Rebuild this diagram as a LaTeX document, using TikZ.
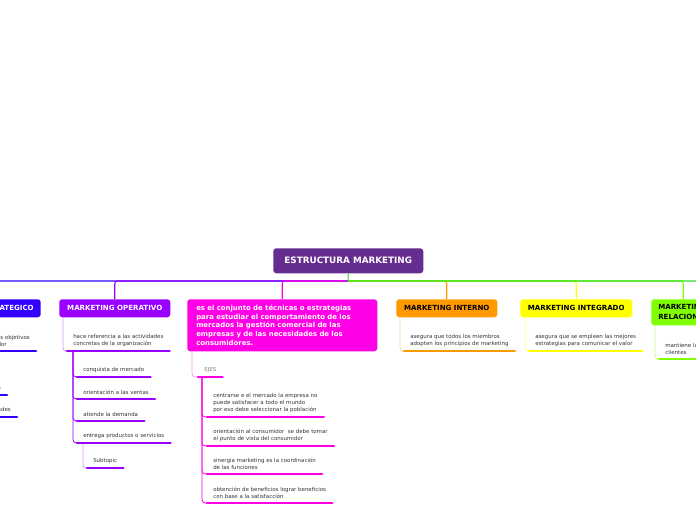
\documentclass[tikz,border=0pt]{standalone}
\usepackage{fontspec}
\setmainfont{DejaVu Sans}

\definecolor{cRoot}{HTML}{662D91}
\definecolor{cEs}{HTML}{3300FF}
\definecolor{cOp}{HTML}{9900FF}
\definecolor{cMg}{HTML}{FF00E6}
\definecolor{cIn}{HTML}{FF9900}
\definecolor{cIg}{HTML}{FFFF00}
\definecolor{cRe}{HTML}{80FF00}
\definecolor{cNx}{HTML}{33DD22}
\definecolor{txt}{HTML}{333333}

\tikzset{
  topic/.style={rounded corners=2.25pt, inner xsep=5.25pt, inner ysep=0pt, minimum height=13.5pt,
    font=\bfseries\fontsize{5.3}{7.5}\selectfont},
  subt/.style={inner xsep=4.5pt, inner ysep=3pt, align=left, text=txt,
    font=\fontsize{4.1}{5.3}\selectfont},
  uline/.style={line width=2pt, line cap=round},
  bus/.style={line width=0.8pt, rounded corners=2pt},
  twig/.style={line width=0.6pt, rounded corners=2.5pt},
}

\begin{document}
\begin{tikzpicture}[x=0.75pt,y=-0.75pt]
\useasboundingbox (0,0) rectangle (696,520);
\clip (0,0) rectangle (696,520);

% central topic
\node[topic, fill=cRoot, text=white, anchor=north west, minimum width=112.5pt, minimum height=18.75pt,
  font=\bfseries\fontsize{6.6}{8}\selectfont] (root) at (273,248) {ESTRUCTURA MARKETING};
\coordinate (bus) at (348,281);
\coordinate (nxt) at (780,299);

% main branches
\node[topic, fill=cEs, text=white, anchor=north east] (est) at (41,299) {MARKETING ESTRATEGICO};
\node[topic, fill=cOp, text=white, anchor=north west, minimum width=83.25pt] (ope) at (59,299) {MARKETING OPERATIVO};
\node[topic, fill=cMg, text=white, anchor=north west, align=left, inner xsep=6.75pt, text width=129pt,
  minimum height=39pt, font=\bfseries\fontsize{5.2}{6.4}\selectfont] (def) at (187,299)
  {es el conjunto de técnicas o estrategias\\para estudiar el comportamiento de los\\mercados la gestión comercial de las\\empresas y de las necesidades de los\\consumidores.};
\node[topic, fill=cIn, anchor=north west, minimum width=75.75pt] (int) at (396,299) {MARKETING INTERNO};
\node[topic, fill=cIg, anchor=north west, minimum width=84pt] (itg) at (520,299) {MARKETING INTEGRADO};
\node[topic, fill=cRe, anchor=north west, align=left, minimum height=19.5pt] (rel) at (651,299) {MARKETING\\RELACIONAL};

% bus lines from the central topic
\draw[bus, cEs] (bus) -| (est.north);
\draw[bus, cOp] (bus) -| (ope.north);
\draw[bus, cMg] (bus) -| (def.north);
\draw[bus, cIn] (bus) -| (int.north);
\draw[bus, cIg] (bus) -| (itg.north);
\draw[bus, cRe] (bus) -| (rel.north);
\draw[bus, cNx] (bus) -| (nxt);
\draw[bus, cNx] (root.south) -- (bus);

% estrategico
\node[subt, anchor=south east] (es1) at (36,351) {y detecta los objetivos\\al consumidor};
\node[subt, anchor=south east] (es2) at (7,395) {segmentación};
\node[subt, anchor=south east] (es3) at (17,417) {oportunidades};
\draw[twig, cEs!40] ([xshift=3pt]est.south west) |- (es1.south west);
\foreach \n in {es2,es3}
  \draw[twig, cEs] ([xshift=4.5pt]es1.south west) |- (\n.south west);
\foreach \n in {es1,es2,es3}
  \draw[uline, cEs] (\n.south west) -- (\n.south east);

% operativo
\node[subt, anchor=south west] (od) at (67,351) {hace referencia a las actividades\\concretas de la organización};
\node[subt, anchor=south west] (o1) at (77,377) {conquista de mercado};
\node[subt, anchor=south west] (o2) at (77,399) {orientación a las ventas};
\node[subt, anchor=south west] (o3) at (77,421) {atiende la demanda};
\node[subt, anchor=south west] (o4) at (77,443) {entrega productos o servicios};
\node[subt, anchor=south west] (o5) at (87,468) {Subtopic};
\draw[twig, cOp!40] ([xshift=3pt]ope.south west) |- (od.south west);
\foreach \n in {o1,o2,o3,o4}
  \draw[twig, cOp] ([xshift=4.5pt]od.south west) |- (\n.south west);
\draw[twig, cOp!40] ([xshift=4.5pt]o4.south west) |- (o5.south west);
\foreach \n in {od,o1,o2,o3,o4,o5}
  \draw[uline, cOp] (\n.south west) -- (\n.south east);

% definicion y ejes
\node[subt, anchor=south west, text=gray] (ejes) at (198,377) {EJES};
\node[subt, anchor=south west] (m1) at (207,417) {centrarse e el mercado la empresa no\\puede satisfacer a todo el mundo\\por eso debe seleccionar la población};
\node[subt, anchor=south west] (m2) at (207,446) {orientación al consumidor~ se debe tomar\\el punto de vista del consumidor};
\node[subt, anchor=south west] (m3) at (207,474) {sinergia marketing es la coordinación\\de las funciones};
\node[subt, anchor=south west] (m4) at (207,503) {obtención de beneficios lograr beneficios\\con base a la satisfacción};
\draw[twig, cMg!40] ([xshift=3.75pt]def.south west) |- (ejes.south west);
\foreach \n in {m1,m2,m3,m4}
  \draw[twig, cMg] ([xshift=3pt]ejes.south west) |- (\n.south west);
\foreach \n in {ejes,m1,m2,m3,m4}
  \draw[uline, cMg] (\n.south west) -- (\n.south east);

% interno, integrado, relacional
\node[subt, anchor=south west] (i1) at (404,351) {asegura que todos los miembros\\adopten los principios de marketing};
\node[subt, anchor=south west] (g1) at (529,351) {asegura que se empleen las mejores\\estrategias para comunicar el valor};
\node[subt, anchor=south west] (r1) at (659,359) {mantiene la relación con los\\clientes};
\draw[twig, cIn!40] ([xshift=3pt]int.south west) |- (i1.south west);
\draw[twig, cIg!50] ([xshift=3.75pt]itg.south west) |- (g1.south west);
\draw[twig, cRe!50] ([xshift=3pt]rel.south west) |- (r1.south west);
\draw[uline, cIn] (i1.south west) -- (i1.south east);
\draw[uline, cIg] (g1.south west) -- (g1.south east);
\draw[uline, cRe] (r1.south west) -- (r1.south east);

\end{tikzpicture}
\end{document}
